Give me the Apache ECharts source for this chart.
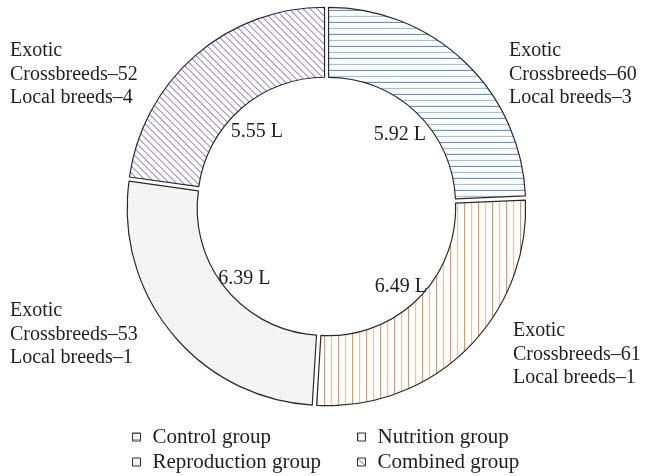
<!DOCTYPE html>
<html>
<head>
<meta charset="utf-8">
<script src="https://cdn.jsdelivr.net/npm/echarts@6/dist/echarts.min.js"></script>
<style>
  html, body { margin: 0; padding: 0; background: #ffffff; }
  #chart { width: 646px; height: 476px; }
</style>
</head>
<body>
<div id="chart"></div>
<script>
// Groups in clockwise order from 12 o'clock
const groups = ['Control group', 'Nutrition group', 'Reproduction group', 'Combined group'];
// Average daily milk yield (litres) per group
const milkYield = [5.92, 6.49, 6.39, 5.55];
// Herd composition per group
const exoticCrossbreeds = [60, 61, 53, 52];
const localBreeds = [3, 1, 1, 4];

// Where each herd-composition note sits (left edge, middle line centre)
const noteAnchors = [[509, 74.5], [513, 354.5], [10, 334.5], [10, 74.5]];

const FONT = 'Liberation Serif';
const INK = '#1f1f1f';

// Small repeating hatch tiles used as slice fills
function hatch(w, h, draw) {
  const c = document.createElement('canvas');
  c.width = w; c.height = h;
  const ctx = c.getContext('2d');
  ctx.fillStyle = '#ffffff';
  ctx.fillRect(0, 0, w, h);
  draw(ctx);
  return { image: c, repeat: 'repeat' };
}

const fills = [
  // horizontal blue rules
  hatch(8, 12, ctx => {
    ctx.fillStyle = '#4a88c6'; ctx.fillRect(0, 0, 8, 1);
    ctx.fillStyle = '#8fb9e1'; ctx.fillRect(0, 6, 8, 1);
  }),
  // vertical orange rules
  hatch(14, 8, ctx => {
    ctx.fillStyle = '#ef8540'; ctx.fillRect(0, 0, 1, 8);
    ctx.fillStyle = '#f6b78c'; ctx.fillRect(7, 0, 1, 8);
  }),
  // faint grey grid
  hatch(4, 4, ctx => {
    ctx.fillStyle = '#f8f8f8'; ctx.fillRect(0, 0, 4, 4);
    ctx.fillStyle = '#efefef'; ctx.fillRect(0, 3, 4, 1); ctx.fillRect(3, 0, 1, 4);
  }),
  // purple back-diagonals
  hatch(7, 7, ctx => {
    ctx.strokeStyle = '#7758c2'; ctx.lineWidth = 1;
    ctx.beginPath();
    ctx.moveTo(-1, -1); ctx.lineTo(8, 8);
    ctx.moveTo(-1, 6); ctx.lineTo(1, 8);
    ctx.moveTo(6, -1); ctx.lineTo(8, 1);
    ctx.stroke();
  })
];

const CENTER = [326.5, 206.5];
const LABEL_CENTER = [326.5, 211.5];

const ringData = groups.map((g, i) => ({
  name: g,
  value: milkYield[i],
  selected: true,
  itemStyle: { color: fills[i] }
}));

const yieldData = groups.map((g, i) => ({ name: g, value: milkYield[i] }));

// transparent twin of the ring, used only to carry text
function textLayer(center, radius, label, extra) {
  return Object.assign({
    type: 'pie',
    center: center,
    radius: radius,
    startAngle: 90,
    clockwise: true,
    silent: true,
    avoidLabelOverlap: false,
    emphasis: { disabled: true },
    itemStyle: { color: 'rgba(0,0,0,0)', borderWidth: 0 },
    label: Object.assign({
      show: true,
      position: 'inside',
      fontFamily: FONT,
      fontSize: 20,
      color: INK
    }, label),
    labelLine: { show: false },
    data: yieldData
  }, extra || {});
}

const legendBase = {
  orient: 'vertical',
  top: 425,
  padding: 0,
  itemWidth: 8,
  itemHeight: 8,
  itemGap: 1,
  icon: 'rect',
  selectedMode: false,
  itemStyle: { borderColor: '#333333', borderWidth: 1 },
  textStyle: { fontFamily: FONT, fontSize: 21, lineHeight: 24, color: INK, padding: [0, 0, 0, 7] }
};

const chart = echarts.init(document.getElementById('chart'), null, { renderer: 'canvas' });
chart.setOption({
  backgroundColor: '#ffffff',
  animation: false,
  legend: [
    Object.assign({}, legendBase, { left: 132, data: [groups[0], groups[2]] }),
    Object.assign({}, legendBase, { left: 357, data: [groups[1], groups[3]] })
  ],
  series: [
    {
      type: 'pie',
      center: CENTER,
      radius: [127, 197],
      startAngle: 90,
      clockwise: true,
      selectedMode: 'multiple',
      selectedOffset: 3,
      itemStyle: { borderColor: '#2a2a2a', borderWidth: 1.2 },
      select: { itemStyle: { borderColor: '#2a2a2a', borderWidth: 1.2 } },
      emphasis: { disabled: true },
      label: { show: false },
      labelLine: { show: false },
      data: ringData
    },
    // yield values just inside the hole
    textLayer(LABEL_CENTER, [0, 206], {
      formatter: p => p.value.toFixed(2) + ' L'
    }),
    // herd-composition notes around the ring
    textLayer(CENTER, [0, 214], {
      lineHeight: 23.5,
      formatter: p => [
        'Exotic',
        'Crossbreeds–' + exoticCrossbreeds[p.dataIndex],
        'Local breeds–' + localBreeds[p.dataIndex]
      ].join('\n')
    }, {
      labelLayout: p => ({
        x: noteAnchors[p.dataIndex][0],
        y: noteAnchors[p.dataIndex][1],
        align: 'left',
        verticalAlign: 'middle'
      })
    })
  ]
});
</script>
</body>
</html>
